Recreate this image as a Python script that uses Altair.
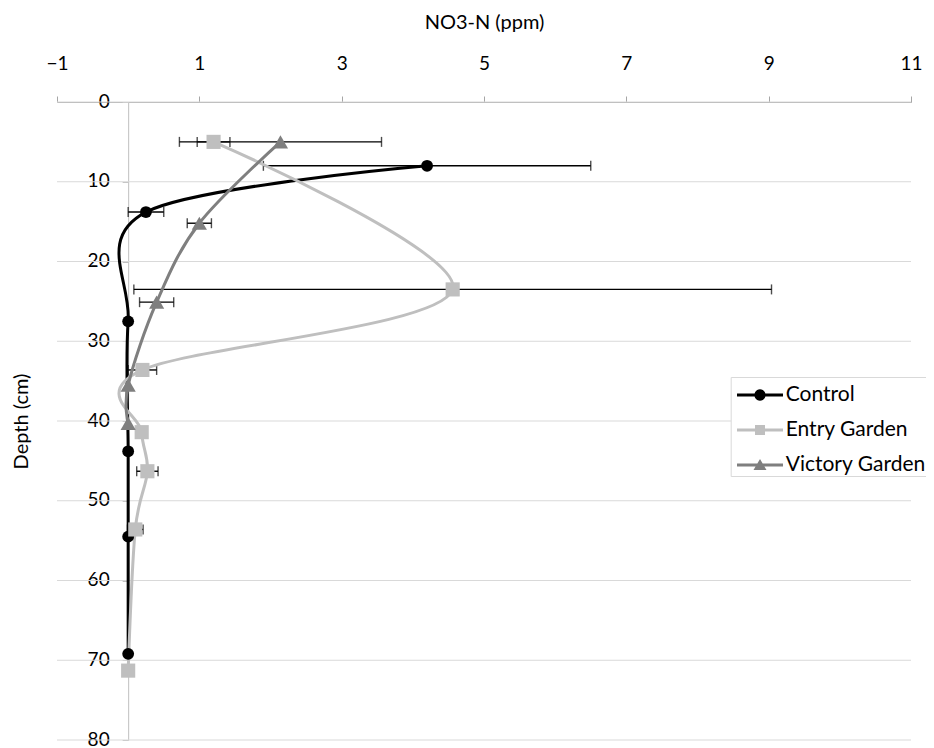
import altair as alt
import pandas as pd

# ---------------- data ----------------
series_names = ["Control", "Entry Garden", "Victory Garden"]
series_colors = ["#000000", "#BFBFBF", "#7F7F7F"]

control_depth = [8.0, 13.8, 27.5, 43.8, 54.5, 69.2]
control_no3 = [4.2, 0.25, 0.0, 0.0, 0.0, 0.0]
control_err = [2.3, 0.25, 0.0, 0.0, 0.0, 0.0]

entry_depth = [5.0, 23.5, 33.6, 41.4, 46.3, 53.6, 71.3]
entry_no3 = [1.2, 4.56, 0.2, 0.19, 0.27, 0.1, 0.0]
entry_err = [0.23, 4.48, 0.2, 0.0, 0.15, 0.11, 0.0]

victory_depth = [5.0, 15.2, 25.1, 35.5, 40.3]
victory_no3 = [2.14, 1.0, 0.4, 0.0, 0.0]
victory_err = [1.42, 0.17, 0.24, 0.0, 0.0]

x_ticks = [-1, 1, 3, 5, 7, 9, 11]
y_ticks = [0, 10, 20, 30, 40, 50, 60, 70, 80]

rows = []
for name, depths, vals, errs in [
    ("Control", control_depth, control_no3, control_err),
    ("Entry Garden", entry_depth, entry_no3, entry_err),
    ("Victory Garden", victory_depth, victory_no3, victory_err),
]:
    for d, v, e in zip(depths, vals, errs):
        rows.append({"series": name, "depth": d, "value": v, "err": e,
                     "lo": v - e, "hi": v + e})
df = pd.DataFrame(rows)
grid_df = pd.DataFrame({"g": y_ticks})

# ---------------- styling ----------------
FONT = "Lato"
xscale = alt.Scale(domain=[-1, 11], nice=False, zero=False)
yscale = alt.Scale(domain=[0, 80], reverse=True, nice=False, zero=False)

xaxis = alt.Axis(orient="top", values=x_ticks, grid=False,
                 domainColor="#A6A6A6", tickColor="#A6A6A6", tickSize=6,
                 labelFont=FONT, labelFontSize=19, labelColor="black",
                 labelPadding=23, labelFlush=False, labelOverlap=False,
                 titleFont=FONT, titleFontSize=20, titleFontWeight="normal",
                 titleColor="black", titlePadding=22)
yaxis = alt.Axis(orient="left", values=y_ticks, grid=False, offset=-71.17,
                 domainColor="#BFBFBF", tickColor="#BFBFBF", tickSize=6,
                 labelFont=FONT, labelFontSize=19, labelColor="black",
                 labelPadding=13, labelOverlap=False, labelOffset=-1,
                 titleFont=FONT, titleFontSize=20, titleFontWeight="normal",
                 titleColor="black", titlePadding=56)


def X(field):
    return alt.X(field, type="quantitative", scale=xscale, axis=xaxis,
                 title="NO3-N (ppm)")


def Y(field):
    return alt.Y(field, type="quantitative", scale=yscale, axis=yaxis,
                 title="Depth (cm)")


# legend symbols: a line segment with the marker on it
u = 17.0
dx = 11.3 / u
hl = 23 / u
ht = 1.5 / u


def f(v):
    return f"{v:.3f}"


line_path = f"M{f(dx-hl)},{f(-ht)}H{f(dx+hl)}V{f(ht)}H{f(dx-hl)}Z"
r = 5.5 / u
circle_path = (f"M{f(dx-r)},0A{f(r)},{f(r)} 0 1,1 {f(dx+r)},0"
               f"A{f(r)},{f(r)} 0 1,1 {f(dx-r)},0Z")
s = 5.0 / u
square_path = f"M{f(dx-s)},{f(-s)}H{f(dx+s)}V{f(s)}H{f(dx-s)}Z"
w = 6.5 / u
tri_path = f"M{f(dx)},{f(-6/u)}L{f(dx+w)},{f(5/u)}L{f(dx-w)},{f(5/u)}Z"
legend_paths = [line_path + circle_path, line_path + square_path,
                line_path + tri_path]

marker_shapes = ["circle", "square", "triangle-up"]
marker_sizes = [140, 200, 230]

# ---------------- layers ----------------
grid = alt.Chart(grid_df).mark_rule(color="#D9D9D9", strokeWidth=1).encode(
    y=Y("g"))

base = alt.Chart(df)
err_layers, line_layers, point_layers = [], [], []
for name, color, shp, sz in zip(series_names, series_colors, marker_shapes,
                                marker_sizes):
    sub = base.transform_filter(alt.datum.series == name)
    errs = sub.transform_filter(alt.datum.err > 0)
    err_layers.append(errs.mark_rule(color="black", strokeWidth=1.4).encode(
        x=X("lo"), x2=alt.X2("hi"), y=Y("depth")))
    err_layers.append(errs.mark_tick(orient="vertical", color="black",
                                     thickness=1.4, size=10).encode(
        x=X("lo"), y=Y("depth")))
    err_layers.append(errs.mark_tick(orient="vertical", color="black",
                                     thickness=1.4, size=10).encode(
        x=X("hi"), y=Y("depth")))
    line_layers.append(sub.mark_line(interpolate="cardinal", color=color,
                                     strokeWidth=3).encode(
        x=X("value"), y=Y("depth"), order=alt.Order("depth:Q")))
    point_layers.append(sub.mark_point(filled=True, shape=shp, size=sz,
                                       color=color, opacity=1).encode(
        x=X("value"), y=Y("depth")))

leg = alt.Legend(title=None, orient="none", legendX=673.7, legendY=275,
                 padding=1, rowPadding=8, strokeColor="#D9D9D9",
                 fillColor="white", symbolSize=1156, symbolStrokeWidth=0,
                 labelOffset=20, labelFont=FONT, labelFontSize=21,
                 labelColor="black")
legend_layer = base.transform_filter("datum.depth < 0").mark_point(
    filled=True, opacity=1).encode(
    x=X("value"), y=Y("depth"),
    color=alt.Color("series:N", scale=alt.Scale(domain=series_names,
                                                range=series_colors),
                    legend=leg),
    shape=alt.Shape("series:N", scale=alt.Scale(domain=series_names,
                                                range=legend_paths),
                    legend=leg))

chart = alt.layer(grid, *err_layers, *line_layers, *point_layers,
                  legend_layer).properties(
    width=854, height=638,
    autosize=alt.AutoSizeParams(type="none"),
    padding={"left": 49, "top": 94, "right": 15, "bottom": 8},
    background="white",
).configure_view(stroke=None)

chart.save("out.html", embed_options={"renderer": "svg", "actions": False})
